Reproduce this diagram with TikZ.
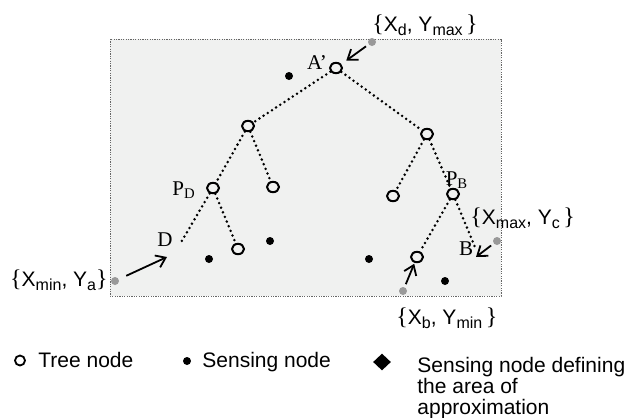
\documentclass[tikz,border=0pt]{standalone}
\usepackage{fontspec}
\setmainfont{Liberation Serif}
\setsansfont{Liberation Sans}
\usetikzlibrary{positioning,arrows.meta,shapes.geometric}
\definecolor{areafill}{RGB}{240,241,240}
\newcommand\lowtxt[1]{\raisebox{-2pt}{\fontsize{8}{8}\selectfont#1}}
\newcommand\rmbr[1]{{\rmfamily\fontsize{12}{12}\selectfont#1}}

\begin{document}
\begin{tikzpicture}[x=0.5pt,y=-0.5pt,font=\sffamily\fontsize{10.5}{10.5}\selectfont,
  tn/.style={ellipse,draw=black,line width=1pt,inner sep=0pt,minimum width=6pt,minimum height=5.2pt},
  sn/.style={circle,fill=black,inner sep=0pt,minimum size=4pt},
  gd/.style={circle,fill=black!40,inner sep=0pt,minimum size=4pt},
  tl/.style={line width=1.4pt,dash pattern=on 0pt off 2.5pt,line cap=round},
  ar/.style={-{Straight Barb[length=4.5pt,width=6.5pt]},line width=0.9pt},
  pl/.style={font=\rmfamily\fontsize{10.5}{11}\selectfont,inner sep=0pt},
  cl/.style={inner sep=0pt},
  lt/.style={inner sep=0pt,align=left}]
\useasboundingbox (0,0) rectangle (627,418);
% area of approximation
\draw[fill=areafill,draw=black!60,line width=0.4pt,dash pattern=on 0.6pt off 0.6pt] (110,39) rectangle (501,296);
% tree nodes
\node[tn](root) at (336,68){};
\node[tn](nl) at (248,126){};
\node[tn](nr) at (427,134){};
\node[tn](pd) at (213,188){};
\node[tn](nl2) at (273,187){};
\node[tn](pd2) at (238,249){};
\node[tn](nr1) at (393,196){};
\node[tn](pb) at (453,194){};
\node[tn](pb1) at (417,257){};
\coordinate(dend) at (180,244);
\coordinate(bend) at (475,247);
\draw[tl](root)--(nl);\draw[tl](root)--(nr);
\draw[tl](nl)--(pd);\draw[tl](nl)--(nl2);
\draw[tl](pd)--(dend);\draw[tl](pd)--(pd2);
\draw[tl](nr)--(nr1);\draw[tl](nr)--(pb);
\draw[tl](pb)--(pb1);\draw[tl](pb)--(bend);
% sensing nodes
\node[sn](s1) at (289,76){};
\node[sn](s2) at (209,259){};
\node[sn](s3) at (270,241){};
\node[sn](s4) at (369,259){};
\node[sn](s5) at (445,281){};
% corner sensing nodes
\node[gd](gd) at (372,42){};
\node[gd](gmin) at (115,281){};
\node[gd](gmax) at (497,241){};
\node[gd](gb) at (403,291){};
\coordinate(tipd) at (167,257);
\coordinate(tipb) at (476,257);
\draw[ar,shorten <=1.5pt,shorten >=3pt](gd)--(root);
\draw[ar,shorten <=4pt](gmin)--(tipd);
\draw[ar,shorten <=1.5pt](gmax)--(tipb);
\draw[ar,shorten <=1.5pt,shorten >=0.5pt](gb)--(pb1);
% labels
\node[pl](la) at (317,63){A’};
\node[pl](lpd) at (184,190){P\textsubscript{D}};
\node[pl](lpb) at (457,180){P\textsubscript{B}};
\node[pl](ld) at (165,240){D};
\node[pl](lb) at (466,249){B};
\node[cl,anchor=west](cd) at (372,25){\rmbr{\{}X\lowtxt{d}, Y\lowtxt{max}\,\rmbr{\}}};
\node[cl,anchor=east](cmin) at (108,280){\rmbr{\{}X\lowtxt{min}, Y\lowtxt{a}\rmbr{\}}};
\node[cl,anchor=west](cmax) at (470,218){\rmbr{\{}X\lowtxt{max}, Y\lowtxt{c}\,\rmbr{\}}};
\node[cl,anchor=west](cb) at (396,318){\rmbr{\{}X\lowtxt{b}, Y\lowtxt{min}\,\rmbr{\}}};
% legend
\node[circle,draw=black,line width=0.9pt,inner sep=0pt,minimum size=5pt](k1) at (20,360.5){};
\node[lt,anchor=base west](t1) at (38,367){Tree node};
\node[sn](k2) at (187,361){};
\node[lt,anchor=base west](t2) at (202,367){Sensing node};
\node[diamond,fill=black,inner sep=0pt,minimum width=9pt,minimum height=8.5pt](k3) at (382,362){};
\node[lt,anchor=north west](t3) at (417,356.5){Sensing node defining\\the area of\\approximation};
\end{tikzpicture}
\end{document}
